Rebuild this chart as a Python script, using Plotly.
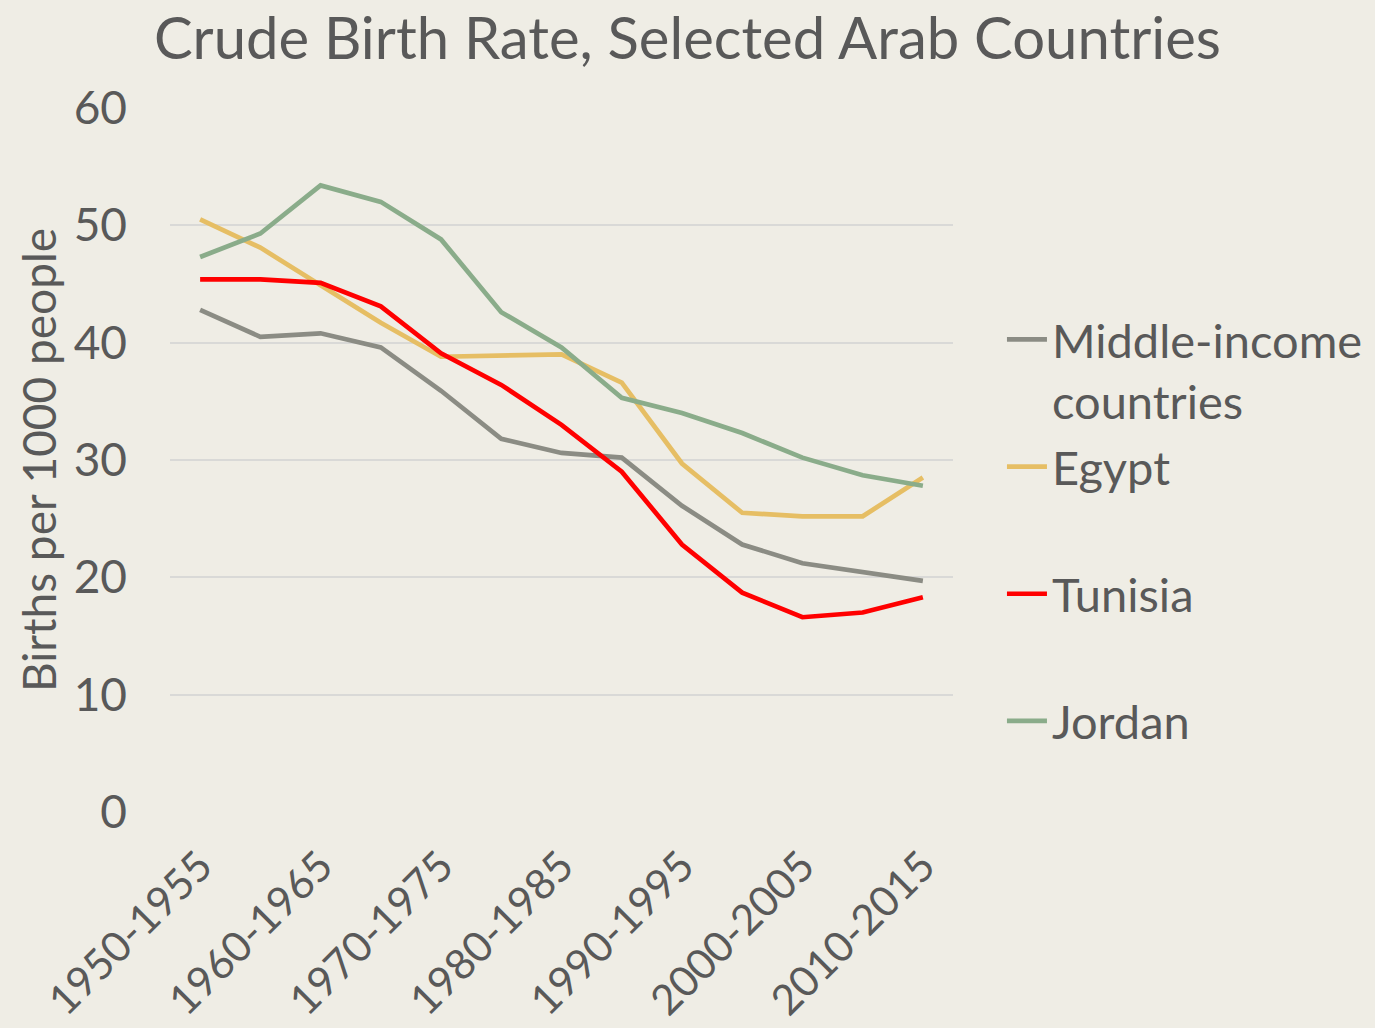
import plotly.graph_objects as go

periods = ["1950-1955", "1955-1960", "1960-1965", "1965-1970", "1970-1975",
           "1975-1980", "1980-1985", "1985-1990", "1990-1995", "1995-2000",
           "2000-2005", "2005-2010", "2010-2015"]
tick_labels = ["1950-1955", "1960-1965", "1970-1975", "1980-1985",
               "1990-1995", "2000-2005", "2010-2015"]

middle_income = [42.8, 40.5, 40.8, 39.6, 35.9, 31.8, 30.6, 30.2, 26.1, 22.8, 21.2, 20.5, 19.7]
egypt = [50.5, 48.1, 44.9, 41.7, 38.8, 38.9, 39.0, 36.6, 29.7, 25.5, 25.2, 25.2, 28.5]
tunisia = [45.4, 45.4, 45.1, 43.1, 39.1, 36.4, 33.0, 29.0, 22.8, 18.7, 16.6, 17.0, 18.3]
jordan = [47.3, 49.3, 53.4, 52.0, 48.8, 42.6, 39.6, 35.3, 34.0, 32.3, 30.2, 28.7, 27.8]

series = [
    ("Middle-income<br>countries", middle_income, "#8B8C84"),
    ("Egypt<br>\u00a0", egypt, "#E6BE64"),
    ("Tunisia<br>\u00a0", tunisia, "#FF0000"),
    ("Jordan<br>\u00a0", jordan, "#8AAC8A"),
]

FONT = "Lato"
TXT = "#595959"
BG = "#EFEDE5"

fig = go.Figure()
for i, (name, vals, col) in enumerate(series):
    fig.add_trace(go.Scatter(x=periods, y=vals, mode="lines", name=name,
                             legendgroup=f"g{i}",
                             line=dict(color=col, width=4.7)))

fig.update_layout(
    width=1375, height=1028,
    paper_bgcolor=BG, plot_bgcolor=BG,
    margin=dict(l=170, r=422, t=108, b=216),
    title=dict(text="Crude Birth Rate, Selected Arab Countries",
               x=0.5, xanchor="center", y=0.962, yanchor="middle",
               font=dict(family=FONT, size=58, color=TXT)),
    font=dict(family=FONT, color=TXT),
    legend=dict(xref="container", x=0.7287, xanchor="left",
                y=0.724, yanchor="top", valign="top",
                font=dict(family=FONT, size=47, color=TXT),
                tracegroupgap=2, itemwidth=40, bgcolor="rgba(0,0,0,0)"),
    showlegend=True,
)
fig.update_xaxes(type="category", range=[-0.5, 12.5], automargin=False,
                 tickmode="array", tickvals=tick_labels, ticktext=tick_labels,
                 tickangle=-45, tickfont=dict(family=FONT, size=42, color=TXT),
                 ticklabelstandoff=20,
                 showgrid=False, showline=False, ticks="", zeroline=False)
fig.update_yaxes(range=[0, 60], dtick=10, automargin=False,
                 tickfont=dict(family=FONT, size=46, color=TXT),
                 ticklabelstandoff=42,
                 showgrid=True, gridcolor="#D9D9D7", gridwidth=1.5,
                 zeroline=False, showline=False, ticks="", ticklen=0,
                 title=dict(text="Births per 1000 people",
                            font=dict(family=FONT, size=46, color=TXT),
                            standoff=2))

fig.write_html("out.html", config={"displayModeBar": False},
               post_script="document.body.style.margin='0';document.body.style.padding='0';")
